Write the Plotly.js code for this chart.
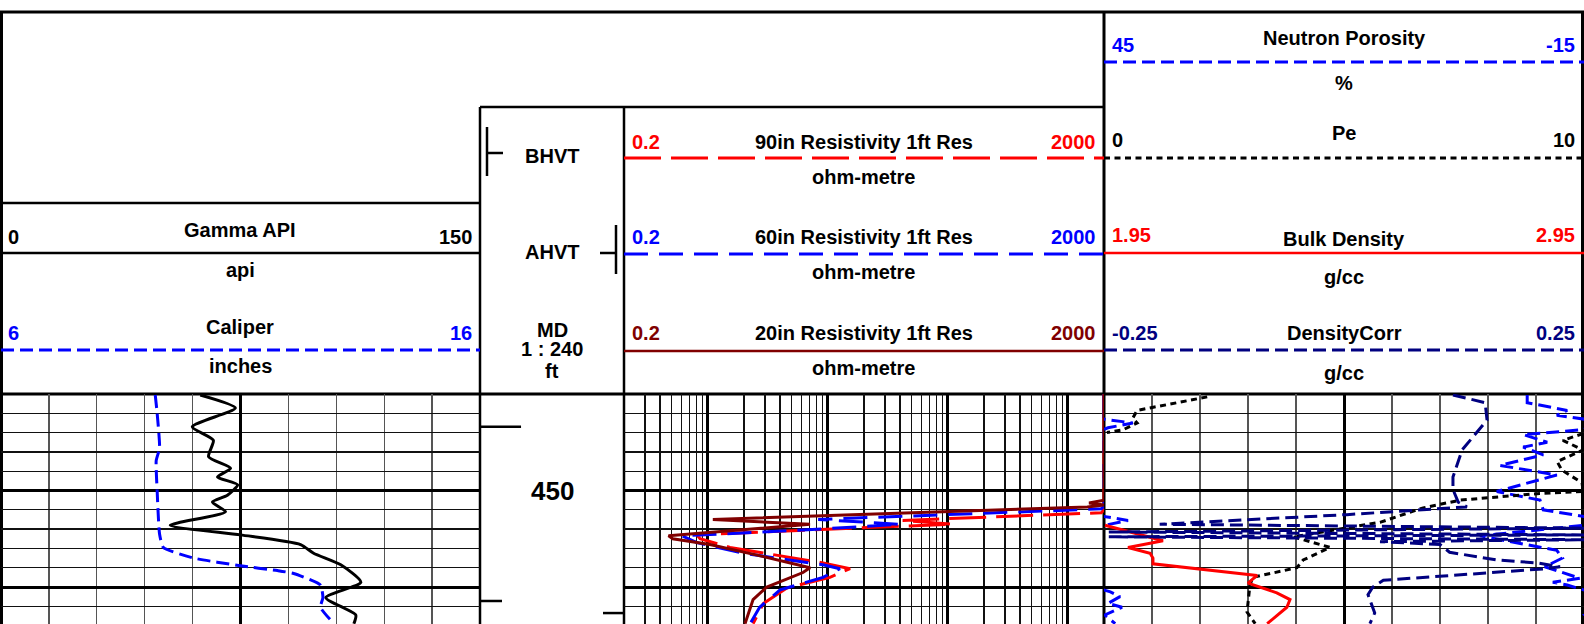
<!DOCTYPE html>
<html><head><meta charset="utf-8">
<script src="https://cdn.plot.ly/plotly-3.0.1.min.js"></script>
<style>html,body{margin:0;padding:0;background:#fff}#chart{width:1584px;height:624px}</style>
</head><body><div id="chart"></div>
<script>
// ---------------- DATA ----------------
const depthRange = [440, 463.834];
const depthLabels = [450];

const gammaDepth = [440.1, 441.45, 443.4, 444.8, 446.5, 447.7, 448.6, 449.4, 450.5, 451.2, 452.2, 453.6, 454.6, 455.6, 456.5, 457.7, 459.5, 461.1, 462.9, 463.8];
const gammaAPI   = [62.4, 73.4, 59.9, 66.5, 65.0, 71.9, 67.8, 74.1, 70.9, 66.2, 70.3, 53.0, 75.0, 93.8, 97.9, 106.4, 112.7, 101.7, 111.1, 110.5];

const caliperDepth = [440.1, 442.0, 445.6, 446.9, 450.0, 454.5, 455.9, 457.0, 457.8, 458.3, 458.6, 459.8, 461.1, 462.1, 463.8];
const caliperIn    = [9.22, 9.26, 9.31, 9.24, 9.26, 9.31, 9.39, 10.02, 11.0, 11.77, 12.11, 12.67, 12.72, 12.67, 12.95];

const bhvtDepth = [443.4, 461.45];
const bhvtValue = [28.5, 15.3];
const ahvtDepth = [462.7];
const ahvtValue = [14.6];

const res90Depth = [440.0, 452.0, 452.3, 453.1, 453.5, 453.7, 454.6, 455.0, 455.9, 457.5, 458.1, 459.0, 460.1, 461.7, 463.8];
const res90      = [2000, 2000, 1900, 42, 110, 40, 0.81, 0.86, 1.53, 9.1, 15.3, 10.4, 4.55, 2.9, 2.38];
const res60Depth = [440.0, 451.6, 451.9, 453.0, 453.5, 454.1, 454.7, 455.4, 456.5, 457.7, 458.1, 459.0, 460.3, 462.1, 463.8];
const res60      = [2000, 2000, 1900, 8.3, 39.9, 6.2, 0.61, 0.81, 1.96, 9.1, 12.6, 9.1, 4.0, 2.7, 2.25];
const res20Depth = [440.0, 451.0, 451.3, 451.5, 451.7, 453.0, 453.5, 454.7, 455.0, 455.6, 456.7, 458.0, 458.5, 460.0, 461.3, 463.8];
const res20      = [2000, 2000, 1500, 2000, 1450, 1.10, 7.1, 0.47, 0.51, 1.04, 2.57, 7.1, 6.2, 3.1, 2.38, 2.04];

const nphiDepth = [440.1, 440.9, 441.7, 442.2, 442.7, 443.0, 443.5, 443.7, 444.2, 445.0, 445.5, 446.3, 447.4, 447.7, 448.4, 450.1, 451.0, 452.0, 452.7, 453.1, 453.6, 454.7, 456.2, 457.0, 457.9, 459.1, 459.5, 459.8, 460.5, 461.0, 461.7, 462.1, 462.9, 463.8];
const nphi      = [-7.9, -7.9, -12.9, -11.6, -15.8, -18.6, -15.5, -14.9, -7.4, -10.4, -7.4, -9.9, -4.5, -6.6, -11.6, -4.1, -9.5, -9.9, -14.9, -18.0, -15.1, -2.0, -11.6, -12.3, -10.1, -14.5, -11.1, -12.9, -15.8, -17.0, -15.5, -17.25, -15.1, -16.4];

const peDepth = [440.3, 441.7, 442.5, 443.0, 443.7, 444.0, null, 444.1, 444.8, 445.8, 447.0, 447.9, 449.2, 450.1, 450.3, 451.0, 451.8, 453.3, 454.8, 455.9, 457.2, 458.0, 459.0, 459.8, 462.6, 463.8];
const pe      = [2.15, 0.69, 0.60, 0.69, 0.40, 0.06, null, 9.98, 9.56, 9.98, 9.44, 9.54, 9.96, 9.98, 9.08, 7.42, 6.65, 5.75, 3.94, 4.71, 4.15, 4.02, 3.10, 3.04, 2.98, 3.15];

const rhobDepth = [453.6, 455.2, 455.9, 456.5, 457.0, 457.6, 458.8, 459.6, 460.6, 461.3, 462.1, 463.8];
const rhob      = [1.952, 2.073, 2.0, 2.046, 2.052, 2.052, 2.269, 2.25, 2.31, 2.3375, 2.331, 2.29];

const drhoDepth = [440.1, 440.9, 442.7, 444.2, 445.8, 448.6, 449.9, 451.2, 451.7, 452.5, 453.5, 453.9, 454.3, 454.6, 454.8, 455.1, 455.3, 455.6, 456.4, 457.2, 457.5, 457.9, 458.1, 459.3, 460.0, 460.8, 462.7, 463.8];
const drho      = [0.1135, 0.147, 0.149, 0.136, 0.123, 0.1135, 0.1135, 0.119, 0.128, 0.003, -0.192, 0.25, -0.245, 0.25, -0.245, 0.25, 0.0375, 0.1, 0.11, 0.159, 0.201, 0.225, 0.211, 0.041, 0.030, 0.025, 0.032, 0.027];

// ---------------- LAYOUT HELPERS ----------------
const W = 1584, H = 624;
const PX = x => x / W, PY = y => 1 - y / H;
const DATA_TOP = 394;
const T1 = [1, 480], T2 = [480, 624], T3 = [624, 1104], T4 = [1104, 1584];
const FONT = 'Liberation Sans, Arial, Helvetica, sans-serif';
const RED = '#ff0000', BLUE = '#0000ff', DRED = '#800000', NAVY = '#000080';
const DASH_RED = '37px,10px', DASH_BLUE = '24px,11px', DASH_SHORT = '13px,6px', DOT = '6px,4.5px';

function rangeVals(a, b, step, skip) {
  const out = [];
  for (let v = a; v <= b + 1e-9; v += step) { const r = Math.round(v * 1000) / 1000; if (!skip(r)) out.push(r); }
  return out;
}
const yMajor = rangeVals(440, 470, 10, v => v === 440);
const yMinor = rangeVals(440, 470, 2, v => v % 10 === 0);
const logMinor = [];
[0.1, 1, 10, 100, 1000].forEach(dec => { for (let k = 2; k <= 9; k++) { const v = +(k * dec).toPrecision(3); if (v > 0.2 && v < 2000) logMinor.push(v); } });

const thinGrid = '#555', thinGridH = '#111';
const yBase = {range: [depthRange[1], depthRange[0]], domain: [0, PY(DATA_TOP)], showticklabels: false, ticks: '', zeroline: false, showline: false};

const layout = {
  width: W, height: H, margin: {l: 0, r: 0, t: 0, b: 0},
  paper_bgcolor: '#fff', plot_bgcolor: 'rgba(0,0,0,0)', showlegend: false,
  font: {family: FONT, color: '#000'},
  yaxis: Object.assign({}, yBase, {tickmode: 'array', tickvals: yMajor, showgrid: true, gridcolor: '#000', gridwidth: 3,
    minor: {tickmode: 'array', tickvals: yMinor, showgrid: true, gridcolor: thinGridH, gridwidth: 1.3, ticks: ''}}),
  yaxis2: Object.assign({}, yBase, {showgrid: false, anchor: 'x3'}),
  xaxis: {domain: [PX(T1[0]), PX(T1[1])], range: [0, 150], anchor: 'y', showticklabels: false, ticks: '', zeroline: false,
    tickmode: 'array', tickvals: [75], showgrid: true, gridcolor: '#000', gridwidth: 3,
    minor: {tickmode: 'array', tickvals: [15, 30, 45, 60, 90, 105, 120, 135], showgrid: true, gridcolor: thinGrid, gridwidth: 1.3, ticks: ''}},
  xaxis2: {overlaying: 'x', range: [6, 16], anchor: 'y', visible: false},
  xaxis3: {domain: [PX(T2[0]), PX(T2[1])], range: [0, 100], anchor: 'y2', visible: false},
  xaxis9: {overlaying: 'x3', range: [100, 0], anchor: 'y2', visible: false},
  xaxis4: {domain: [PX(T3[0]), PX(T3[1])], type: 'log', range: [Math.log10(0.2), Math.log10(2000)], anchor: 'y', showticklabels: false, ticks: '', zeroline: false,
    tickmode: 'array', tickvals: [1, 10, 100, 1000], showgrid: true, gridcolor: '#000', gridwidth: 3,
    minor: {tickmode: 'array', tickvals: logMinor, showgrid: true, gridcolor: thinGridH, gridwidth: 1.4, ticks: ''}},
  xaxis5: {domain: [PX(T4[0]), PX(T4[1])], range: [45, -15], anchor: 'y', showticklabels: false, ticks: '', zeroline: false,
    tickmode: 'array', tickvals: [15], showgrid: true, gridcolor: '#000', gridwidth: 3,
    minor: {tickmode: 'array', tickvals: [39, 33, 27, 21, 9, 3, -3, -9], showgrid: true, gridcolor: thinGrid, gridwidth: 1.3, ticks: ''}},
  xaxis6: {overlaying: 'x5', range: [0, 10], anchor: 'y', visible: false},
  xaxis7: {overlaying: 'x5', range: [1.95, 2.95], anchor: 'y', visible: false},
  xaxis8: {overlaying: 'x5', range: [-0.25, 0.25], anchor: 'y', visible: false},
  shapes: [], annotations: []
};

// header frame lines (pixel positions)
function hline(y, x0, x1, color, width, dash) {
  layout.shapes.push({type: 'line', xref: 'paper', yref: 'paper', x0: PX(x0), x1: PX(x1), y0: PY(y), y1: PY(y), layer: 'below',
    line: {color: color || '#000', width: width || 2.5, dash: dash || 'solid'}});
}
function vline(x, y0, y1, width) {
  layout.shapes.push({type: 'line', xref: 'paper', yref: 'paper', x0: PX(x), x1: PX(x), y0: PY(y0), y1: PY(y1), layer: 'below',
    line: {color: '#000', width: width || 2.5}});
}
hline(12, 0, W, '#000', 3);
hline(DATA_TOP, 0, W, '#000', 3);
vline(1.5, 12, H, 3);
vline(480, 107, H, 2.5);
vline(624, 107, H, 2.5);
vline(1104, 12, H, 3);
vline(1582.5, 12, H, 3);
hline(107, 480, 1104, '#000', 2.5);
hline(203, 1, 480, '#000', 2.5);
// legend sample lines
hline(253, 1, 480, '#000', 2.5);
hline(350, 1, 480, BLUE, 3, DASH_SHORT);
hline(158, 624, 1104, RED, 3, DASH_RED);
hline(254, 624, 1104, BLUE, 3, DASH_BLUE);
hline(351, 624, 1104, DRED, 2.5);
hline(62, 1104, 1584, BLUE, 3, DASH_SHORT);
hline(158, 1104, 1584, '#000', 3, DOT);
hline(253, 1104, 1584, RED, 2.5);
hline(350, 1104, 1584, NAVY, 3, DASH_SHORT);
// BHVT / AHVT symbols
vline(487, 127, 176, 2.5); hline(153, 487, 503, '#000', 2.5);
vline(616, 225, 274, 2.5); hline(253, 600, 616, '#000', 2.5);

function lab(text, x, y, color, anchor, size) {
  layout.annotations.push({text: '<b>' + text + '</b>', xref: 'paper', yref: 'paper', x: PX(x), y: PY(y),
    xanchor: anchor || 'center', yanchor: 'middle', showarrow: false,
    font: {family: FONT, size: size || 20, color: color || '#000'}});
}
// Track 1
lab('Gamma API', 240, 230); lab('0', 6, 237, '#000', 'left'); lab('150', 474, 237, '#000', 'right'); lab('api', 240, 270);
lab('Caliper', 240, 327); lab('6', 6, 333, BLUE, 'left'); lab('16', 474, 333, BLUE, 'right'); lab('inches', 240, 366);
// Depth track
lab('BHVT', 552, 156); lab('AHVT', 552, 252); lab('MD', 552, 330); lab('1 : 240', 552, 349); lab('ft', 552, 371);
// Track 3
[[142, RED, '90in'], [237, BLUE, '60in'], [333, DRED, '20in']].forEach(([y, c, n]) => {
  lab('0.2', 630, y, c, 'left'); lab(n + ' Resistivity 1ft Res', 864, y); lab('2000', 1098, y, c, 'right'); lab('ohm-metre', 864, y + 35);
});
// Track 4
lab('45', 1110, 45, BLUE, 'left'); lab('Neutron Porosity', 1344, 38); lab('-15', 1577, 45, BLUE, 'right'); lab('%', 1344, 83);
lab('0', 1110, 140, '#000', 'left'); lab('Pe', 1344, 133); lab('10', 1577, 140, '#000', 'right');
lab('1.95', 1110, 235, RED, 'left'); lab('Bulk Density', 1344, 239); lab('2.95', 1577, 235, RED, 'right'); lab('g/cc', 1344, 277);
lab('-0.25', 1110, 333, NAVY, 'left'); lab('DensityCorr', 1344, 333); lab('0.25', 1577, 333, NAVY, 'right'); lab('g/cc', 1344, 373);

// depth labels
depthLabels.forEach(d => layout.annotations.push({text: '<b>' + d + '</b>', xref: 'x3', yref: 'y2', x: 50, y: d,
  xanchor: 'center', yanchor: 'middle', showarrow: false, font: {family: FONT, size: 26, color: '#000'}}));

// ---------------- TRACES ----------------
function ticks(depths, vals) {
  const x = [], y = [];
  depths.forEach((d, i) => { x.push(0, vals[i], null); y.push(d, d, null); });
  return {x, y};
}
const bh = ticks(bhvtDepth, bhvtValue), ah = ticks(ahvtDepth, ahvtValue);
const L = (color, dash, width) => ({color, dash: dash || 'solid', width: width || 3});
const traces = [
  {x: gammaAPI, y: gammaDepth, xaxis: 'x', yaxis: 'y', mode: 'lines', line: Object.assign(L('#000'), {shape: 'spline', smoothing: 0.6})},
  {x: caliperIn, y: caliperDepth, xaxis: 'x2', yaxis: 'y', mode: 'lines', line: Object.assign(L(BLUE, DASH_SHORT), {shape: 'spline', smoothing: 0.5})},
  {x: bh.x, y: bh.y, xaxis: 'x3', yaxis: 'y2', mode: 'lines', line: L('#000', 'solid', 2.5)},
  {x: ah.x, y: ah.y, xaxis: 'x9', yaxis: 'y2', mode: 'lines', line: L('#000', 'solid', 2.5)},
  {x: res90, y: res90Depth, xaxis: 'x4', yaxis: 'y', mode: 'lines', line: L(RED, DASH_RED)},
  {x: res60, y: res60Depth, xaxis: 'x4', yaxis: 'y', mode: 'lines', line: L(BLUE, DASH_BLUE)},
  {x: res20, y: res20Depth, xaxis: 'x4', yaxis: 'y', mode: 'lines', line: L(DRED)},
  // neutron porosity and its wrapped (backup) display
  {x: nphi, y: nphiDepth, xaxis: 'x5', yaxis: 'y', mode: 'lines', line: L(BLUE, DASH_SHORT)},
  {x: nphi.map(v => v + 60), y: nphiDepth, xaxis: 'x5', yaxis: 'y', mode: 'lines', line: L(BLUE, DASH_SHORT)},
  {x: pe, y: peDepth, xaxis: 'x6', yaxis: 'y', mode: 'lines', line: L('#000', DOT)},
  {x: rhob, y: rhobDepth, xaxis: 'x7', yaxis: 'y', mode: 'lines', line: L(RED)},
  {x: drho, y: drhoDepth, xaxis: 'x8', yaxis: 'y', mode: 'lines', line: L(NAVY, DASH_SHORT)}
];
traces.forEach(t => { t.hoverinfo = 'skip'; });

Plotly.newPlot('chart', traces, layout, {staticPlot: true, displayModeBar: false});
</script>
</body></html>
